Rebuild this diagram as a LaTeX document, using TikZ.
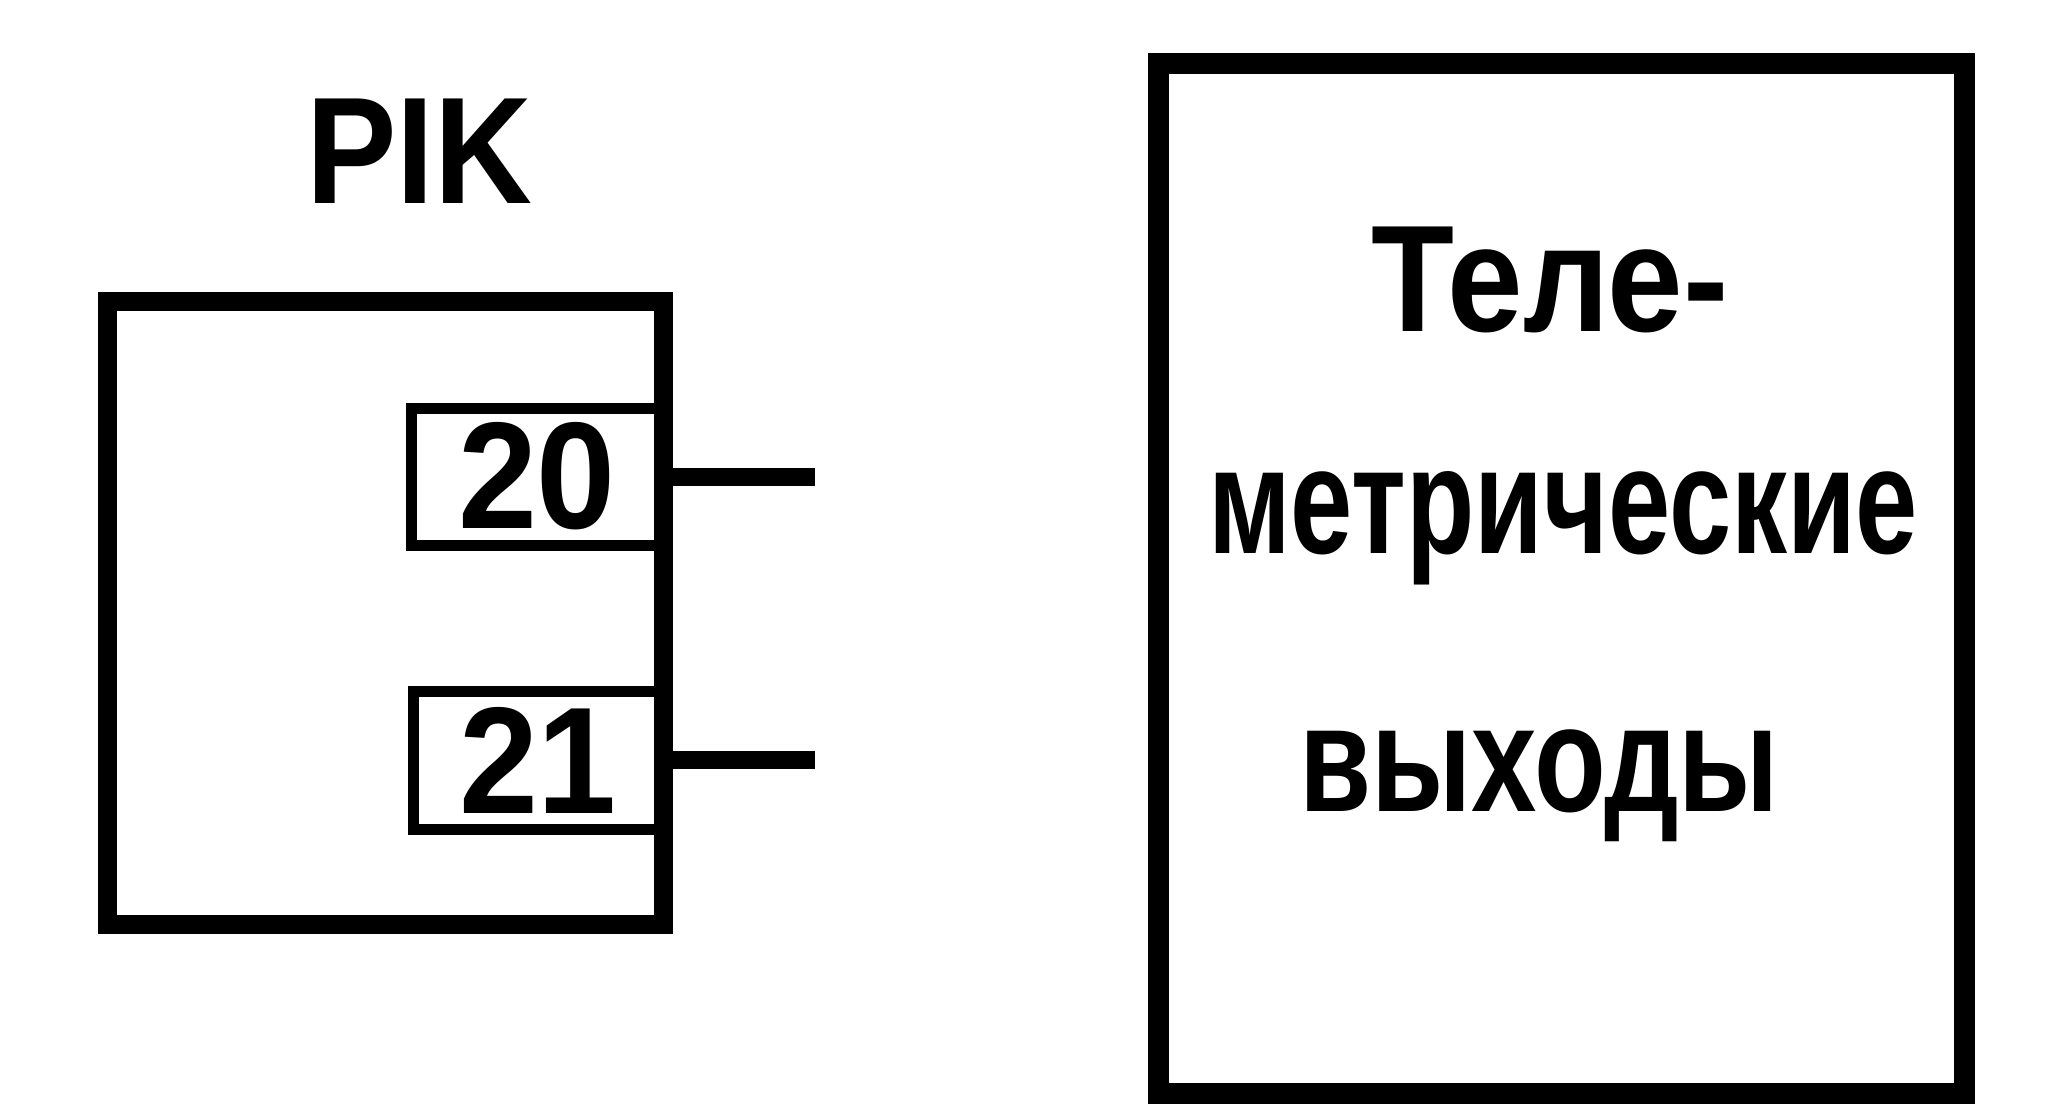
\documentclass[tikz,border=0pt]{standalone}
\usepackage{fontspec}
\usepackage{graphicx}
\setmainfont{Liberation Sans}
\newcommand\fitw[2]{\setbox0=\hbox{#2}\pgfmathsetmacro\fitfac{#1/\the\wd0}\scalebox{\fitfac}[1]{\box0}}
\begin{document}
\begin{tikzpicture}[x=1pt,y=-1pt]
\tikzset{
  frame/.style={draw=black, line width=19pt, inner sep=0pt, outer sep=0pt},
  pinbox/.style={draw=black, line width=11pt, inner sep=0pt, outer sep=0pt, font=\fontsize{152}{160}\selectfont\bfseries},
  wire/.style={draw=black, line width=18pt},
  lbl/.style={inner sep=0pt, anchor=base, font=\fontsize{152}{160}\selectfont\bfseries},
}
\path[fill=white] (0,0) rectangle (2048,1117);
\useasboundingbox (0,0) rectangle (2048,1117);

% PIK block
\node[frame, minimum width=556pt, minimum height=623pt] (pik) at (385,612.5) {};
\node[pinbox, minimum width=252pt, minimum height=137pt] (pin20) at (537,476.5) {\fitw{158pt}{20}};
\node[pinbox, minimum width=250pt, minimum height=138pt] (pin21) at (538,760) {\fitw{158pt}{21}};
\draw[frame] (pik.north east) -- (pik.south east);
\node[lbl] (pikl) at (419,203) {\fitw{226pt}{PIK}};

% wires
\coordinate (e20) at (815,477);
\coordinate (e21) at (815,760);
\draw[wire] (pin20.east) -- (pin20.east -| e20);
\draw[wire] (pin21.east) -- (pin21.east -| e21);

% Telemetry block
\node[frame, line width=21pt, minimum width=806pt, minimum height=1030pt] (tele) at (1561,578) {};
\node[lbl] (t1) at (1550,331) {\fitw{357pt}{Теле-}};
\node[lbl] (t2) at (1563,553) {\fitw{710pt}{метрические}};
\node[lbl] (t3) at (1539,811) {\fitw{480pt}{выходы}};
\end{tikzpicture}
\end{document}
